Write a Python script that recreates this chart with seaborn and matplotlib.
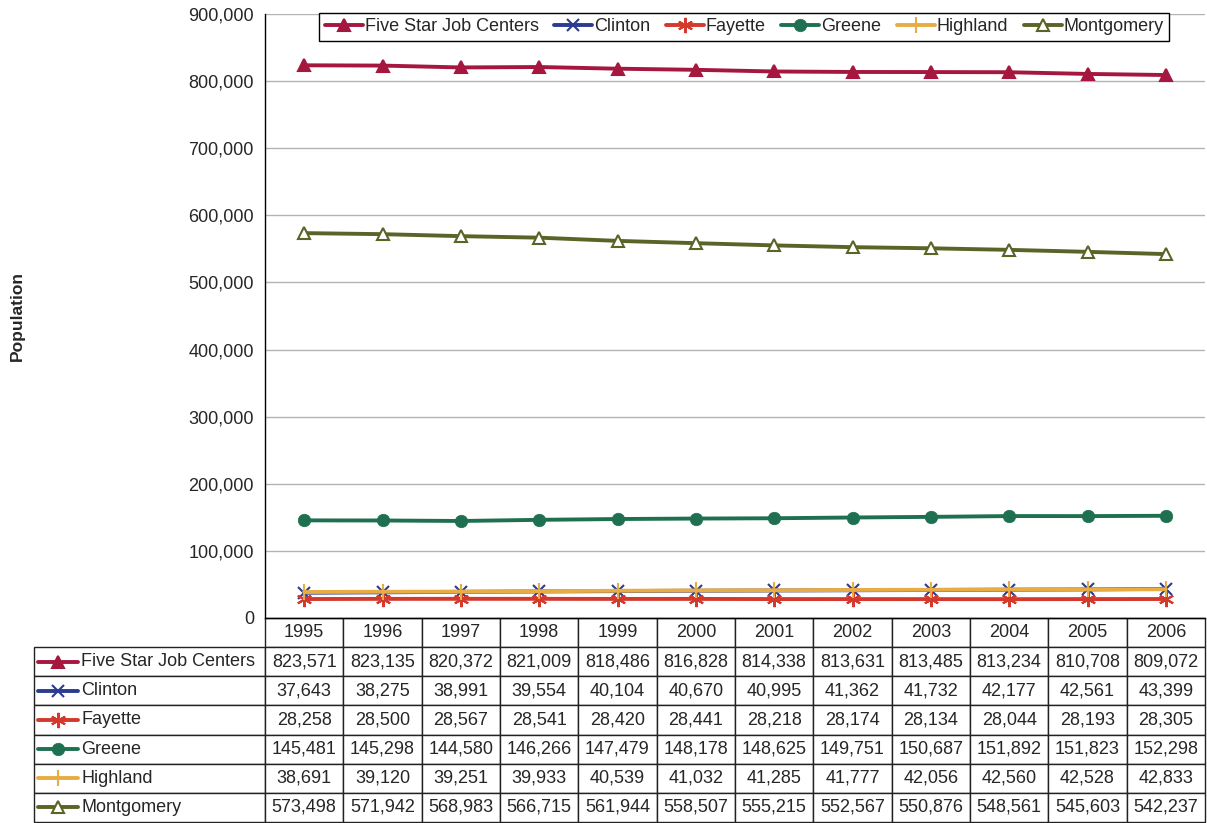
import matplotlib
matplotlib.use("Agg")
import matplotlib.pyplot as plt
from matplotlib.lines import Line2D
from matplotlib.ticker import FuncFormatter
import seaborn as sns
import pandas as pd

years = [1995, 1996, 1997, 1998, 1999, 2000, 2001, 2002, 2003, 2004, 2005, 2006]
series_names = ["Five Star Job Centers", "Clinton", "Fayette", "Greene", "Highland", "Montgomery"]
five_star = [823571, 823135, 820372, 821009, 818486, 816828, 814338, 813631, 813485, 813234, 810708, 809072]
clinton = [37643, 38275, 38991, 39554, 40104, 40670, 40995, 41362, 41732, 42177, 42561, 43399]
fayette = [28258, 28500, 28567, 28541, 28420, 28441, 28218, 28174, 28134, 28044, 28193, 28305]
greene = [145481, 145298, 144580, 146266, 147479, 148178, 148625, 149751, 150687, 151892, 151823, 152298]
highland = [38691, 39120, 39251, 39933, 40539, 41032, 41285, 41777, 42056, 42560, 42528, 42833]
montgomery = [573498, 571942, 568983, 566715, 561944, 558507, 555215, 552567, 550876, 548561, 545603, 542237]
y_ticks = [0, 100000, 200000, 300000, 400000, 500000, 600000, 700000, 800000, 900000]

values = [five_star, clinton, fayette, greene, highland, montgomery]

sns.set_style("white")
plt.rcParams['font.family'] = ['Liberation Sans', 'DejaVu Sans']

FS = 13
colors = ["#A6173F", "#2B3B8F", "#D3392C", "#1F7050", "#E8AC45", "#5B6426"]
markers = ["^", "x", (6, 2, 0), "o", "|", "^"]
mfcs = ["#A6173F", "none", "none", "#1F7050", "none", "white"]
msizes = [9, 9, 11, 9, 11, 9]
mews = [1.5, 1.5, 1.5, 0.5, 1.5, 1.5]

W, H = 1207, 823
fig = plt.figure(figsize=(W / 100, H / 100), dpi=100)
ax_l, ax_r, ax_t, ax_b = 265, 1205, 14, 618
ax = fig.add_axes([ax_l / W, 1 - ax_b / H, (ax_r - ax_l) / W, (ax_b - ax_t) / H])

rows = []
for name, vals in zip(series_names, values):
    for i, v in enumerate(vals):
        rows.append({"series": name, "idx": i, "value": v})
df = pd.DataFrame(rows)

for k, name in enumerate(series_names):
    sub = df[df["series"] == name]
    sns.lineplot(data=sub, x="idx", y="value", ax=ax, color=colors[k], lw=2.8,
                 marker=markers[k], markersize=msizes[k], markerfacecolor=mfcs[k],
                 markeredgecolor=colors[k], markeredgewidth=mews[k],
                 label=name, zorder=3 + k, legend=False)

ax.set_xlim(-0.5, len(years) - 0.5)
ax.set_ylim(0, 900000)
ax.set_yticks(y_ticks)
ax.yaxis.set_major_formatter(FuncFormatter(lambda v, p: f"{int(v):,}"))
ax.tick_params(axis="y", direction="out", length=5, width=1, color="black", labelsize=FS, pad=3)
ax.set_xticks([])
ax.set_xlabel("")
ax.set_ylabel("")
ax.grid(axis="y", color="#b3b3b3", lw=1)
ax.set_axisbelow(True)
for s in ["top", "right"]:
    ax.spines[s].set_visible(False)
for s in ["left", "bottom"]:
    ax.spines[s].set_color("black")
    ax.spines[s].set_linewidth(1)

fig.text(17 / W, 1 - 316 / H, "Population", rotation=90, fontsize=12.5, fontweight="bold",
         ha="center", va="center")

# legend
handles = [Line2D([], [], color=colors[k], lw=2.8, marker=markers[k], markersize=msizes[k],
                  markerfacecolor=mfcs[k], markeredgecolor=colors[k],
                  markeredgewidth=mews[k]) for k in range(6)]
leg = ax.legend(handles, series_names, loc="upper center", bbox_to_anchor=(0.51, 1.002),
                ncol=6, fontsize=FS, frameon=True, fancybox=False, framealpha=1,
                edgecolor="black", handlelength=2.1, handletextpad=0.12,
                columnspacing=0.85, borderpad=0.3, borderaxespad=0.0)
leg.get_frame().set_linewidth(1)

# data table
tbl_left, tbl_right, tbl_top, tbl_bot = 34, 1205, 618, 822
lab_w = ax_l - tbl_left
col_w = (ax_r - ax_l) / len(years)
cell_text = [[""] + [str(y) for y in years]]
for name, vals in zip(series_names, values):
    cell_text.append([name] + [f"{v:,}" for v in vals])
col_widths = [lab_w] + [col_w] * len(years)
tw = tbl_right - tbl_left
col_widths = [c / tw for c in col_widths]
ax_w = ax_r - ax_l
ax_h = ax_b - ax_t
bbox = [(tbl_left - ax_l) / ax_w, (ax_b - tbl_bot) / ax_h, tw / ax_w, (tbl_bot - tbl_top) / ax_h]
table = ax.table(cellText=cell_text, colWidths=col_widths, bbox=bbox, cellLoc="center")
table.auto_set_font_size(False)
table.set_fontsize(FS)
for (r, c), cell in table.get_celld().items():
    cell.set_edgecolor("#222222")
    cell.set_linewidth(1)
    if r == 0 and c == 0:
        cell.visible_edges = ""
    if c == 0 and r > 0:
        cell._loc = "left"
        cell.PAD = 0.205
        cell.get_text().set_ha("left")

row_h = (tbl_bot - tbl_top) / 7
for k in range(6):
    yc = tbl_top + row_h * (k + 1.5)
    line = Line2D([38 / W, 78 / W], [1 - yc / H, 1 - yc / H], transform=fig.transFigure,
                  color=colors[k], lw=2.8)
    fig.add_artist(line)
    mk = Line2D([58 / W], [1 - yc / H], transform=fig.transFigure, color=colors[k],
                marker=markers[k], markersize=msizes[k], markerfacecolor=mfcs[k],
                markeredgecolor=colors[k], markeredgewidth=mews[k], lw=0)
    fig.add_artist(mk)

fig.savefig("out.png", dpi=100)
